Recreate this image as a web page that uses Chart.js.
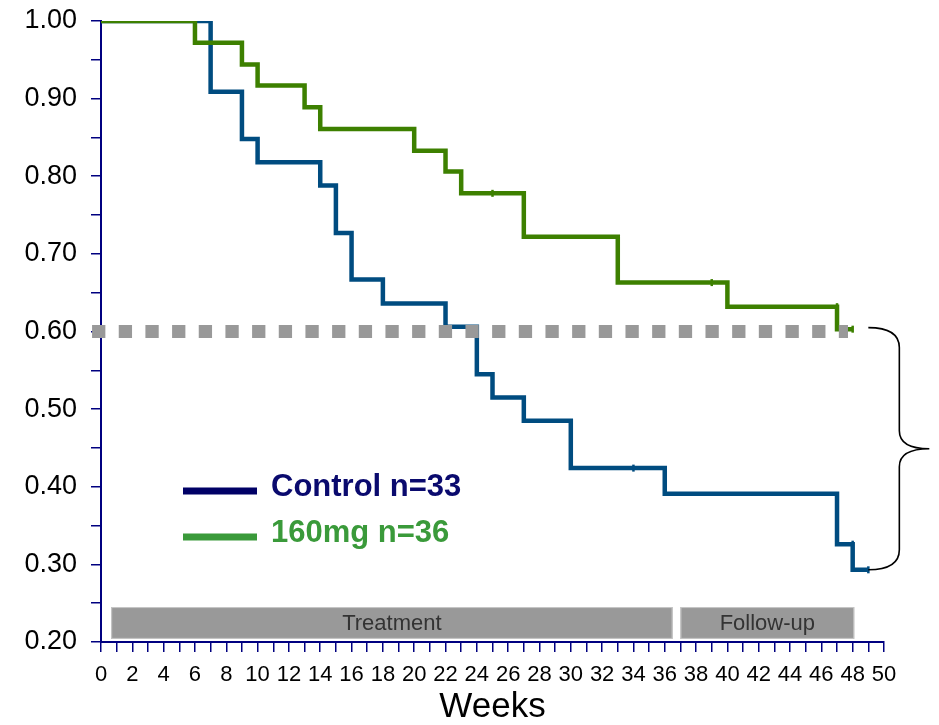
<!DOCTYPE html>
<html>
<head>
<meta charset="utf-8">
<title>Kaplan-Meier</title>
<script src="https://cdn.jsdelivr.net/npm/chart.js@4.4.0/dist/chart.umd.min.js"></script>
<style>
  html, body { margin: 0; padding: 0; background: #fff; }
</style>
</head>
<body>
<canvas id="km" width="939" height="725"></canvas>
<script>
// survival curves (week of event, survival after event)
const controlWeeks = [0, 7, 9, 10, 14, 15, 16, 18, 22, 24, 25, 27, 30, 36, 47, 48, 49];
const controlSurv = [1.0, 0.909, 0.848, 0.818, 0.788, 0.727, 0.667, 0.636, 0.606, 0.545, 0.515, 0.485, 0.424, 0.391, 0.326, 0.293, 0.293];
const doseWeeks = [0, 6, 9, 10, 13, 14, 20, 22, 23, 27, 33, 40, 47, 48];
const doseSurv = [1.0, 0.972, 0.944, 0.917, 0.889, 0.861, 0.833, 0.806, 0.778, 0.722, 0.663, 0.632, 0.603, 0.603];

// censored observations
const controlCensorWeeks = [34, 48, 49];
const controlCensorSurv = [0.424, 0.326, 0.293];
const doseCensorWeeks = [25, 39, 47, 48];
const doseCensorSurv = [0.778, 0.663, 0.632, 0.603];

// reference level line
const refWeeks = [-0.57, 47.7];
const refLevel = [0.60, 0.60];

// study phases along the bottom
const phaseLabels = ['Treatment', 'Follow-up'];
const phaseStart = [0.65, 37.0];
const phaseEnd = [36.5, 48.1];
const phaseLow = 0.204;
const phaseHigh = 0.245;

const seriesLabels = ['Control n=33', '160mg n=36'];

const BLUE = '#004c80';
const GREEN = '#3d8000';
const AXIS = '#000080';

function pts(xs, ys) {
  return xs.map((x, i) => ({ x: x, y: ys[i] }));
}

const phasePlugin = {
  id: 'phases',
  beforeDatasetsDraw(chart) {
    const ctx = chart.ctx;
    const x = chart.scales.x, y = chart.scales.y;
    ctx.save();
    for (let i = 0; i < phaseLabels.length; i++) {
      const l = x.getPixelForValue(phaseStart[i]);
      const r = x.getPixelForValue(phaseEnd[i]);
      const t = y.getPixelForValue(phaseHigh);
      const b = y.getPixelForValue(phaseLow);
      ctx.fillStyle = '#999999';
      ctx.fillRect(l, t, r - l, b - t);
      ctx.strokeStyle = '#c8c8c8';
      ctx.lineWidth = 1;
      ctx.strokeRect(l + 0.5, t + 0.5, r - l - 1, b - t - 1);
      ctx.fillStyle = '#333333';
      ctx.font = '22px "Liberation Sans", Arial, sans-serif';
      ctx.textAlign = 'center';
      ctx.textBaseline = 'middle';
      ctx.fillText(phaseLabels[i], (l + r) / 2, (t + b) / 2 + 1);
    }
    ctx.restore();
  },
  afterDraw(chart) {
    const ctx = chart.ctx;
    const a = chart.chartArea;
    const x = chart.scales.x, y = chart.scales.y;
    ctx.save();
    // legend
    const lx = a.left + 82, lw = 74;
    const rows = [
      { y: 491, line: '#000066', text: '#0a0a6e' },
      { y: 537, line: '#3a9a3a', text: '#3a9a3a' }
    ];
    rows.forEach((row, i) => {
      ctx.fillStyle = row.line;
      ctx.fillRect(lx, row.y - 3.5, lw, 7);
      ctx.fillStyle = row.text;
      ctx.font = 'bold 31px "Liberation Sans", Arial, sans-serif';
      ctx.textAlign = 'left';
      ctx.textBaseline = 'middle';
      ctx.fillText(seriesLabels[i], lx + 88, row.y - 4);
    });

    // brace on the right
    const x0 = x.getPixelForValue(49);
    const x1 = x0 + 31;
    const tip = x0 + 61;
    const top = y.getPixelForValue(0.605);
    const bot = y.getPixelForValue(0.293);
    const mid = (top + bot) / 2;
    ctx.strokeStyle = '#000';
    ctx.lineWidth = 1.6;
    ctx.beginPath();
    ctx.moveTo(x0, top);
    ctx.quadraticCurveTo(x1, top, x1, top + 20);
    ctx.lineTo(x1, mid - 18);
    ctx.quadraticCurveTo(x1, mid, tip, mid);
    ctx.quadraticCurveTo(x1, mid, x1, mid + 18);
    ctx.lineTo(x1, bot - 20);
    ctx.quadraticCurveTo(x1, bot, x0, bot);
    ctx.stroke();
    ctx.restore();
  }
};

const censorStyle = {
  type: 'scatter',
  pointStyle: 'line',
  rotation: 90,
  pointRadius: 3.5,
  borderWidth: 2.5,
  showLine: false
};

new Chart(document.getElementById('km'), {
  type: 'line',
  data: {
    datasets: [
      {
        data: pts(refWeeks, refLevel),
        borderColor: '#999999',
        borderWidth: 13,
        borderDash: [13.3, 13.37],
        borderCapStyle: 'butt',
        pointRadius: 0,
        clip: false,
        order: 0
      },
      Object.assign({ data: pts(doseCensorWeeks, doseCensorSurv), borderColor: GREEN, order: 1 }, censorStyle),
      {
        label: seriesLabels[1],
        data: pts(doseWeeks, doseSurv),
        borderColor: GREEN,
        borderWidth: 4.5,
        stepped: 'before',
        pointRadius: 0,
        order: 2
      },
      Object.assign({ data: pts(controlCensorWeeks, controlCensorSurv), borderColor: BLUE, order: 3 }, censorStyle),
      {
        label: seriesLabels[0],
        data: pts(controlWeeks, controlSurv),
        borderColor: BLUE,
        borderWidth: 4.5,
        stepped: 'before',
        pointRadius: 0,
        order: 4
      }
    ]
  },
  options: {
    responsive: false,
    animation: false,
    layout: { padding: { left: 0, right: 55, top: 21, bottom: 0 } },
    plugins: { legend: { display: false }, tooltip: { enabled: false } },
    scales: {
      x: {
        type: 'linear',
        min: 0,
        max: 50,
        afterFit(s) { s.height = 83; s.paddingLeft = 0; s.paddingRight = 0; },
        border: { color: AXIS, width: 2 },
        grid: { drawOnChartArea: false, drawTicks: true, tickLength: 10, color: AXIS, lineWidth: 1.5 },
        ticks: {
          stepSize: 1,
          autoSkip: false,
          maxRotation: 0,
          padding: 10,
          color: '#000',
          font: { size: 22, family: '"Liberation Sans", Arial, sans-serif' },
          callback: v => (v % 2 === 0 ? String(v) : '')
        },
        title: {
          display: true,
          text: 'Weeks',
          color: '#000',
          padding: { top: 0, bottom: 0 },
          font: { size: 35, lineHeight: 1, family: '"Liberation Sans", Arial, sans-serif' }
        }
      },
      y: {
        min: 0.2,
        max: 1.0,
        afterFit(s) { s.width = 101; s.paddingTop = 0; s.paddingBottom = 0; },
        border: { color: AXIS, width: 2 },
        grid: { drawOnChartArea: false, drawTicks: true, tickLength: 10, color: AXIS, lineWidth: 1.5 },
        ticks: {
          stepSize: 0.05,
          autoSkip: false,
          padding: 14,
          color: '#000',
          font: { size: 27, family: '"Liberation Sans", Arial, sans-serif' },
          callback: v => (Math.round(v * 100) % 10 === 0 ? v.toFixed(2) : '')
        }
      }
    }
  },
  plugins: [phasePlugin]
});
</script>
</body>
</html>
